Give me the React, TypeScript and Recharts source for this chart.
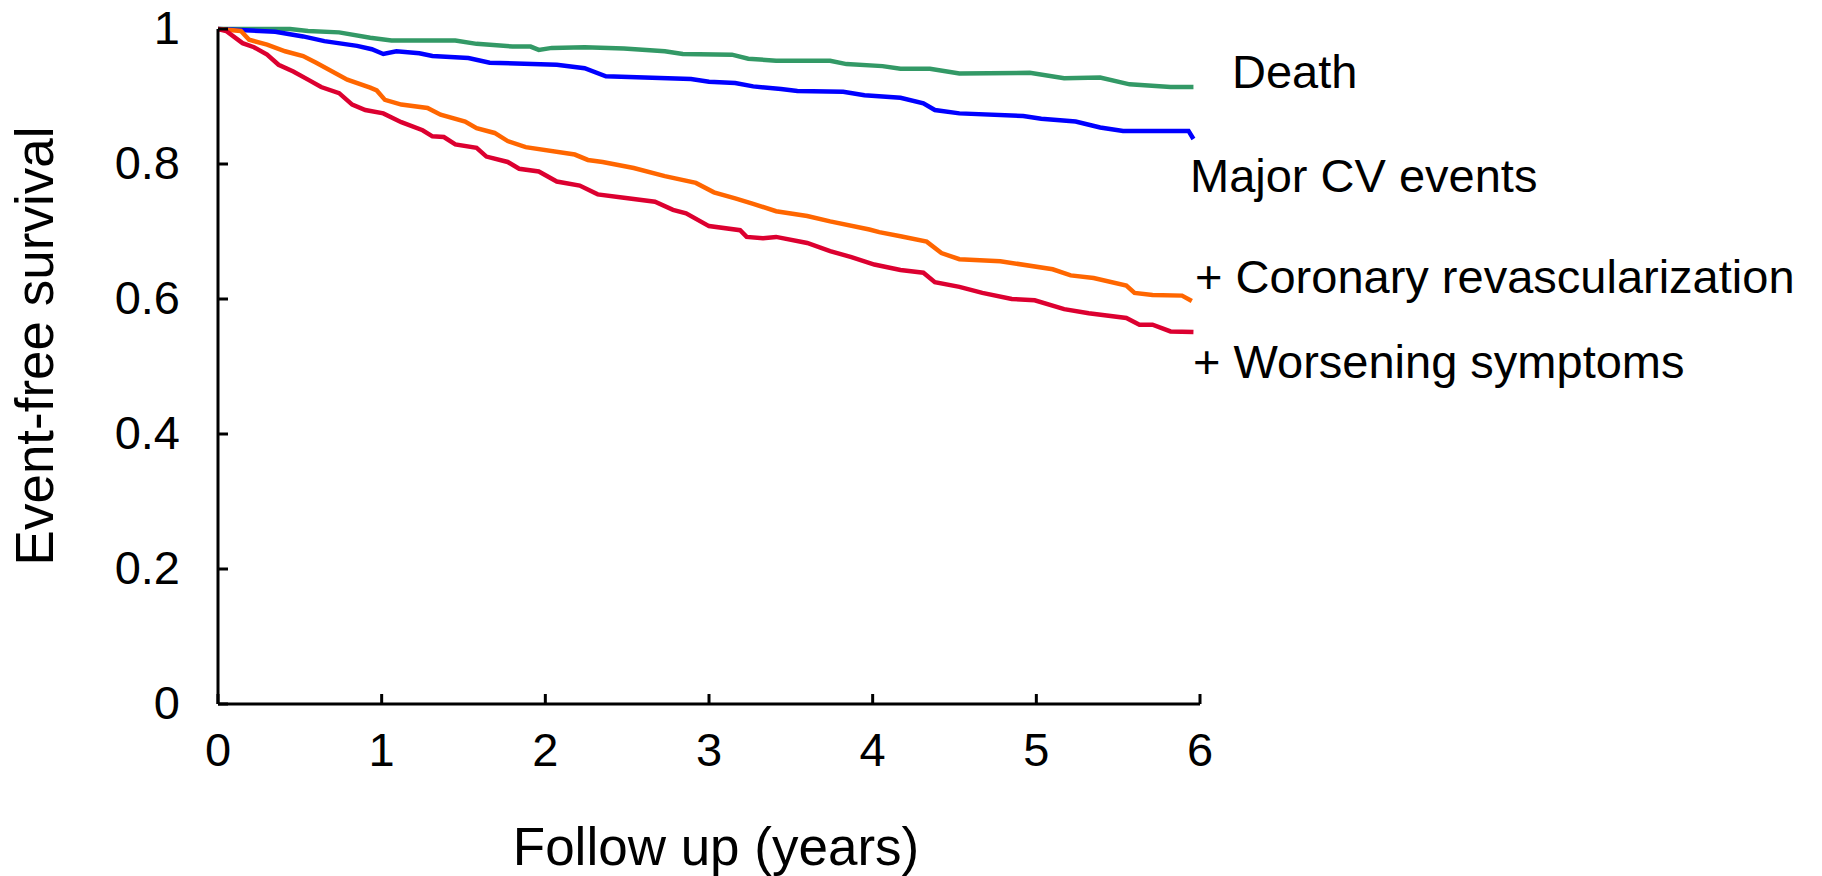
import { Line, LineChart, XAxis, YAxis } from "recharts"

const xTicks = [0, 1, 2, 3, 4, 5, 6]
const yTicks = [0, 0.2, 0.4, 0.6, 0.8, 1]

// Death
const deathYears = [0, 0.16, 0.44, 0.55, 0.74, 0.93, 1.06, 1.45, 1.58, 1.8, 1.91, 1.96, 2.04, 2.24, 2.48, 2.73, 2.84, 3.14, 3.24, 3.41, 3.74, 3.84, 4.06, 4.17, 4.35, 4.53, 4.96, 5.17, 5.39, 5.57, 5.82, 5.96]
const deathSurv = [1, 1, 1, 0.997, 0.995, 0.987, 0.983, 0.983, 0.978, 0.974, 0.974, 0.969, 0.972, 0.973, 0.971, 0.967, 0.963, 0.962, 0.956, 0.953, 0.953, 0.948, 0.945, 0.941, 0.941, 0.934, 0.935, 0.927, 0.928, 0.918, 0.914, 0.914]

// Major CV events
const mcvYears = [0, 0.35, 0.52, 0.65, 0.85, 0.94, 1.01, 1.09, 1.23, 1.31, 1.53, 1.66, 2.07, 2.24, 2.37, 2.89, 3.0, 3.16, 3.27, 3.44, 3.54, 3.82, 3.95, 4.17, 4.31, 4.38, 4.53, 4.92, 5.03, 5.24, 5.39, 5.53, 5.93, 5.96]
const mcvSurv = [1, 0.996, 0.989, 0.982, 0.975, 0.97, 0.963, 0.967, 0.964, 0.96, 0.957, 0.95, 0.947, 0.942, 0.93, 0.926, 0.922, 0.92, 0.915, 0.911, 0.908, 0.907, 0.902, 0.898, 0.89, 0.88, 0.875, 0.871, 0.867, 0.863, 0.854, 0.849, 0.849, 0.837]

// + Coronary revascularization
const revascYears = [0, 0.14, 0.19, 0.3, 0.41, 0.52, 0.6, 0.79, 0.93, 0.97, 1.02, 1.12, 1.28, 1.36, 1.51, 1.58, 1.69, 1.77, 1.88, 2.18, 2.26, 2.35, 2.54, 2.73, 2.92, 3.03, 3.16, 3.27, 3.41, 3.6, 3.74, 3.98, 4.04, 4.17, 4.33, 4.42, 4.53, 4.78, 5.1, 5.21, 5.35, 5.55, 5.6, 5.71, 5.89, 5.95]
const revascSurv = [1, 0.997, 0.984, 0.977, 0.967, 0.96, 0.95, 0.925, 0.913, 0.909, 0.895, 0.888, 0.883, 0.873, 0.863, 0.853, 0.846, 0.834, 0.825, 0.814, 0.806, 0.803, 0.794, 0.782, 0.772, 0.758, 0.749, 0.741, 0.73, 0.723, 0.715, 0.703, 0.699, 0.693, 0.685, 0.668, 0.659, 0.656, 0.644, 0.635, 0.631, 0.62, 0.609, 0.606, 0.605, 0.597]

// + Worsening symptoms
const worseYears = [0, 0.05, 0.15, 0.22, 0.3, 0.37, 0.46, 0.55, 0.63, 0.74, 0.82, 0.9, 1.01, 1.12, 1.25, 1.31, 1.38, 1.45, 1.58, 1.64, 1.77, 1.84, 1.96, 2.07, 2.21, 2.32, 2.48, 2.67, 2.78, 2.86, 3.0, 3.19, 3.23, 3.33, 3.41, 3.6, 3.74, 3.87, 4.01, 4.17, 4.31, 4.38, 4.53, 4.67, 4.85, 4.99, 5.17, 5.32, 5.55, 5.63, 5.71, 5.82, 5.96]
const worseSurv = [1, 0.997, 0.979, 0.973, 0.962, 0.947, 0.937, 0.925, 0.914, 0.905, 0.888, 0.88, 0.875, 0.862, 0.85, 0.841, 0.84, 0.829, 0.824, 0.811, 0.803, 0.793, 0.789, 0.774, 0.768, 0.755, 0.75, 0.744, 0.732, 0.727, 0.708, 0.702, 0.692, 0.69, 0.692, 0.683, 0.671, 0.662, 0.651, 0.643, 0.639, 0.625, 0.618, 0.609, 0.6, 0.598, 0.585, 0.579, 0.572, 0.562, 0.562, 0.552, 0.551]

const toPoints = (years: number[], surv: number[]) => years.map((t, i) => ({ t, v: surv[i] }))

const series = [
  { name: "Death", data: toPoints(deathYears, deathSurv), color: "#339966" },
  { name: "Major CV events", data: toPoints(mcvYears, mcvSurv), color: "#0000ff" },
  { name: "+ Coronary revascularization", data: toPoints(revascYears, revascSurv), color: "#ff6600" },
  { name: "+ Worsening symptoms", data: toPoints(worseYears, worseSurv), color: "#dc0030" },
]

const font = "'Liberation Sans', Arial, sans-serif"
const axisStroke = { stroke: "#000", strokeWidth: 3 }

// tick marks point into the plot, labels sit outside
const YTick = ({ x, y, payload }: any) => (
  <g>
    <line x1={x} x2={x + 10} y1={y} y2={y} stroke="#000" strokeWidth={3} />
    <text x={x - 38} y={y + 15} textAnchor="end" fontSize={47} fontFamily={font} fill="#000">{payload.value}</text>
  </g>
)

const XTick = ({ x, y, payload }: any) => (
  <g>
    <line x1={x} x2={x} y1={y - 10} y2={y} stroke="#000" strokeWidth={3} />
    <text x={x} y={y + 62} textAnchor="middle" fontSize={47} fontFamily={font} fill="#000">{payload.value}</text>
  </g>
)

export default function App() {
  return (
    <div style={{ position: "absolute", left: 0, top: 0, width: 1822, height: 876, background: "#fff" }}>
      <LineChart width={1822} height={876} margin={{ top: 29, right: 622, bottom: 112, left: 158 }}>
        <XAxis
          dataKey="t"
          type="number"
          domain={[0, 6]}
          ticks={xTicks}
          height={60}
          axisLine={axisStroke}
          tickLine={false}
          tickSize={0}
          tickMargin={0}
          tick={<XTick />}
        />
        <YAxis
          type="number"
          domain={[0, 1]}
          ticks={yTicks}
          width={60}
          axisLine={axisStroke}
          tickLine={false}
          tickSize={0}
          tickMargin={0}
          tick={<YTick />}
        />
        {series.map(s => (
          <Line
            key={s.name}
            data={s.data}
            dataKey="v"
            type="linear"
            stroke={s.color}
            strokeWidth={4.5}
            dot={false}
            activeDot={false}
            isAnimationActive={false}
          />
        ))}
      </LineChart>
      <svg width={1822} height={876} style={{ position: "absolute", left: 0, top: 0, pointerEvents: "none" }}>
        <g fontFamily={font} fill="#000">
          <text x={1232} y={88} fontSize={47}>Death</text>
          <text x={1190} y={192} fontSize={47}>Major CV events</text>
          <text x={1195} y={293} fontSize={47}>+ Coronary revascularization</text>
          <text x={1193} y={378} fontSize={47}>+ Worsening symptoms</text>
          <text x={716} y={865} fontSize={53} textAnchor="middle">Follow up (years)</text>
          <text x={53} y={346} fontSize={53} textAnchor="middle" transform="rotate(-90, 53, 346)">Event-free survival</text>
        </g>
      </svg>
    </div>
  )
}
